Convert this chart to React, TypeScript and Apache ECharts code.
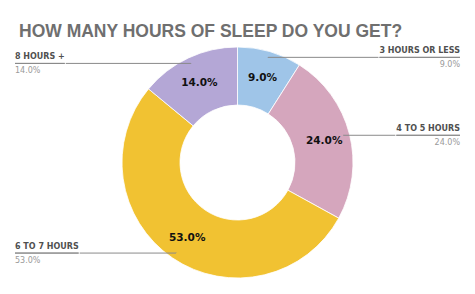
import React, { useEffect, useRef } from "react";
import * as echarts from "echarts";

const categories = ["3 HOURS OR LESS", "4 TO 5 HOURS", "6 TO 7 HOURS", "8 HOURS +"];
const values = [9, 24, 53, 14];
const colors = ["#9fc5e8", "#d5a6bd", "#f1c232", "#b4a7d6"];
const title = "HOW MANY HOURS OF SLEEP DO YOU GET?";

export default function App() {
  const ref = useRef<HTMLDivElement>(null);
  useEffect(() => {
    if (!ref.current) return;
    const chart = echarts.init(ref.current, undefined, { renderer: "svg" });
    const data = categories.map((c, i) => ({ name: c, value: values[i], itemStyle: { color: colors[i] } }));
    const center = [237.5, 162.5];
    chart.setOption({
      animation: false,
      backgroundColor: "#ffffff",
      title: {
        text: title,
        left: 14,
        top: 17,
        textStyle: { fontSize: 17.5, fontWeight: "bold", color: "#6f6f6f", fontFamily: "Liberation Sans" },
      },
      series: [
        {
          type: "pie",
          center,
          radius: [57.5, 115.5],
          startAngle: 90,
          clockwise: true,
          silent: true,
          itemStyle: { borderColor: "#ffffff", borderWidth: 0.8 },
          label: {
            show: true,
            position: "inside",
            formatter: (p: any) => p.value.toFixed(1) + "%",
            fontSize: 10.5,
            fontWeight: "bold",
            color: "#111111",
            fontFamily: "DejaVu Sans",
          },
          labelLine: { show: false },
          data,
        },
        {
          type: "pie",
          center,
          radius: [0, 109],
          startAngle: 90,
          clockwise: true,
          silent: true,
          z: 5,
          itemStyle: { color: "rgba(0,0,0,0)" },
          label: {
            show: true,
            position: "outside",
            alignTo: "edge",
            edgeDistance: 15,
            distanceToLabelLine: 0,
            formatter: (p: any) => "{n|" + p.name + "}\n{hr|}\n{v|" + p.value.toFixed(1) + "%}",
            rich: {
              n: { fontSize: 8, fontWeight: "bold", color: "#505050", fontFamily: "DejaVu Sans", lineHeight: 14 },
              hr: { width: "100%", height: 0, borderColor: "#8a8a8a", borderWidth: 1 },
              v: { fontSize: 8, color: "#9a9a9a", fontFamily: "DejaVu Sans", lineHeight: 14 },
            },
          },
          labelLine: { show: true, length: 0.5, length2: 10, lineStyle: { color: "#8a8a8a", width: 1 } },
          data: categories.map((c, i) => ({ name: c, value: values[i] })),
        },
      ],
    });
    return () => chart.dispose();
  }, []);
  return <div ref={ref} style={{ position: "fixed", left: 0, top: 0, width: 475, height: 294 }} />;
}
